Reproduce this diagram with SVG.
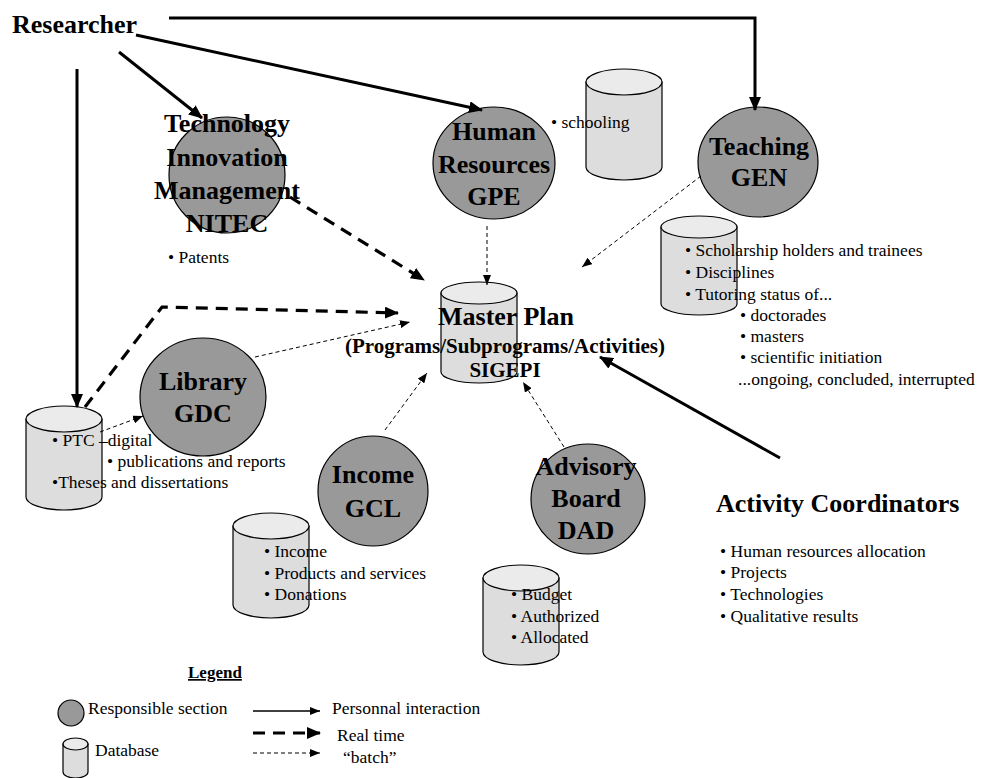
<svg xmlns="http://www.w3.org/2000/svg" width="982" height="778" viewBox="0 0 982 778">
<defs>
<style>
text{font-family:"Liberation Serif","Times New Roman",serif;fill:#000}
.h{font-weight:bold;font-size:26px;text-anchor:middle}
.hl{font-weight:bold;font-size:26px}
.t{font-size:17.5px}
.sec{fill:#999;stroke:#000;stroke-width:1.2}
.body{fill:#ddd;stroke:#000;stroke-width:1.2}
.top{fill:#ebebeb;stroke:#000;stroke-width:1.2}
.solid{fill:none;stroke:#000;stroke-width:3}
.rt{fill:none;stroke:#000;stroke-width:3.2;stroke-dasharray:12 8}
.bt{fill:none;stroke:#000;stroke-width:1;stroke-dasharray:4 3}
</style>
<marker id="ah" markerUnits="userSpaceOnUse" markerWidth="14" markerHeight="12" refX="13" refY="6" orient="auto"><path d="M0,0 L14,6 L0,12 z" fill="#000"/></marker>
<marker id="as" markerUnits="userSpaceOnUse" markerWidth="10" markerHeight="8" refX="10" refY="4" orient="auto"><path d="M0,0 L10,4 L0,8 z" fill="#000"/></marker>
</defs>
<rect width="982" height="778" fill="#fff"/>

<g id="researcher"><text x="12" y="33" class="hl">Researcher</text></g>

<g id="schooling-db">
<path class="body" d="M586,82 V167 A38,13 0 0 0 662,167 V82 Z"/>
<ellipse class="top" cx="624" cy="82" rx="38" ry="13"/>
<text x="551" y="128" class="t">• schooling</text>
</g>

<g id="teaching-db">
<path class="body" d="M661,227 V304 A38,11 0 0 0 737,304 V227 Z"/>
<ellipse class="top" cx="699" cy="227" rx="38" ry="11"/>
<text x="685" y="256" class="t">• Scholarship holders and trainees</text>
<text x="685" y="278" class="t">• Disciplines</text>
<text x="685" y="300" class="t">• Tutoring status of...</text>
<text x="740" y="321" class="t">• doctorades</text>
<text x="740" y="342" class="t">• masters</text>
<text x="740" y="363" class="t">• scientific initiation</text>
<text x="738" y="385" class="t">...ongoing, concluded, interrupted</text>
</g>

<g id="master-plan">
<path class="body" d="M441,293 V372 A38,11 0 0 0 517,372 V293 Z"/>
<ellipse class="top" cx="479" cy="293" rx="38" ry="11"/>
<text x="506" y="325" class="h">Master Plan</text>
<text x="505" y="353" class="h" style="font-size:21px">(Programs/Subprograms/Activities)</text>
<text x="505" y="377" class="h" style="font-size:21px">SIGEPI</text>
</g>

<g id="library-db">
<path class="body" d="M26,419 V497 A38,13 0 0 0 102,497 V419 Z"/>
<ellipse class="top" cx="64" cy="419" rx="38" ry="13"/>
<text x="52" y="446" class="t">• PTC –digital</text>
<text x="107" y="467" class="t">• publications and reports</text>
<text x="52" y="488" class="t">•Theses and dissertations</text>
</g>

<g id="income-db">
<path class="body" d="M233,526 V605 A38,13 0 0 0 309,605 V526 Z"/>
<ellipse class="top" cx="271" cy="526" rx="38" ry="13"/>
<text x="264" y="557" class="t">• Income</text>
<text x="264" y="579" class="t">• Products and services</text>
<text x="264" y="600" class="t">• Donations</text>
</g>

<g id="advisory-db">
<path class="body" d="M483,578 V652 A38,13 0 0 0 559,652 V578 Z"/>
<ellipse class="top" cx="521" cy="578" rx="38" ry="13"/>
<text x="511" y="600" class="t">• Budget</text>
<text x="511" y="622" class="t">• Authorized</text>
<text x="511" y="643" class="t">• Allocated</text>
</g>

<g id="tim">
<ellipse class="sec" cx="227" cy="175" rx="58" ry="58"/>
<text x="227" y="132" class="h">Technology</text>
<text x="227" y="166" class="h">Innovation</text>
<text x="227" y="199" class="h">Management</text>
<text x="227" y="232" class="h">NITEC</text>
<text x="168" y="263" class="t">• Patents</text>
</g>

<g id="hr">
<ellipse class="sec" cx="494" cy="163" rx="61" ry="56"/>
<text x="494" y="140" class="h">Human</text>
<text x="494" y="173" class="h">Resources</text>
<text x="494" y="205" class="h">GPE</text>
</g>

<g id="teaching">
<ellipse class="sec" cx="758" cy="162" rx="60" ry="55"/>
<text x="759" y="155" class="h">Teaching</text>
<text x="759" y="186" class="h">GEN</text>
</g>

<g id="library">
<ellipse class="sec" cx="203" cy="397" rx="63" ry="59"/>
<text x="203" y="390" class="h">Library</text>
<text x="203" y="422" class="h">GDC</text>
</g>

<g id="income">
<ellipse class="sec" cx="373" cy="491" rx="55" ry="55"/>
<text x="373" y="483" class="h">Income</text>
<text x="373" y="517" class="h">GCL</text>
</g>

<g id="advisory">
<ellipse class="sec" cx="588" cy="499" rx="57" ry="55"/>
<text x="586" y="475" class="h">Advisory</text>
<text x="586" y="507" class="h">Board</text>
<text x="586" y="539" class="h">DAD</text>
</g>

<g id="activity-coordinators">
<text x="716" y="512" class="hl">Activity Coordinators</text>
<text x="720" y="557" class="t">• Human resources  allocation</text>
<text x="720" y="578" class="t">• Projects</text>
<text x="720" y="600" class="t">• Technologies</text>
<text x="720" y="622" class="t">• Qualitative results</text>
</g>

<g id="connectors">
<polyline class="solid" points="169,18 755,18 755,110" marker-end="url(#ah)"/>
<line class="solid" x1="136" y1="35" x2="482" y2="110" marker-end="url(#ah)"/>
<line class="solid" x1="119" y1="52" x2="202" y2="118" marker-end="url(#ah)"/>
<line class="solid" x1="77" y1="69" x2="77" y2="407" marker-end="url(#ah)"/>
<line class="solid" x1="780" y1="458" x2="600" y2="357" marker-end="url(#ah)"/>
<line class="rt" x1="290" y1="197" x2="424" y2="280" marker-end="url(#ah)"/>
<polyline class="rt" points="85,407 162,307 398,313" marker-end="url(#ah)"/>
<line class="bt" x1="487" y1="226" x2="487" y2="285" marker-end="url(#as)"/>
<line class="bt" x1="701" y1="176" x2="582" y2="267" marker-end="url(#as)"/>
<line class="bt" x1="255" y1="357" x2="410" y2="322" marker-end="url(#as)"/>
<line class="bt" x1="100" y1="432" x2="143" y2="416" marker-end="url(#as)"/>
<line class="bt" x1="385" y1="430" x2="427" y2="373" marker-end="url(#as)"/>
<line class="bt" x1="564" y1="447" x2="523" y2="382" marker-end="url(#as)"/>
</g>

<g id="legend">
<text x="188" y="678" style="font-size:17px;font-weight:bold;text-decoration:underline">Legend</text>
<circle class="sec" cx="71" cy="713" r="13"/>
<text x="88" y="714" class="t">Responsible section</text>
<path class="body" d="M63,744 V772 A12.5,6 0 0 0 88,772 V744 Z"/>
<ellipse class="top" cx="75.5" cy="744" rx="12.5" ry="6"/>
<text x="95" y="756" class="t">Database</text>
<line x1="253" y1="711" x2="320" y2="711" stroke="#000" stroke-width="1.3" marker-end="url(#as)"/>
<line x1="253" y1="733" x2="320" y2="733" stroke="#000" stroke-width="3.2" stroke-dasharray="12 8" marker-end="url(#ah)"/>
<line x1="253" y1="753" x2="320" y2="753" stroke="#000" stroke-width="1" stroke-dasharray="4 3" marker-end="url(#as)"/>
<text x="332" y="714" class="t">Personnal  interaction</text>
<text x="337" y="741" class="t">Real time</text>
<text x="343" y="763" class="t">“batch”</text>
</g>
</svg>
